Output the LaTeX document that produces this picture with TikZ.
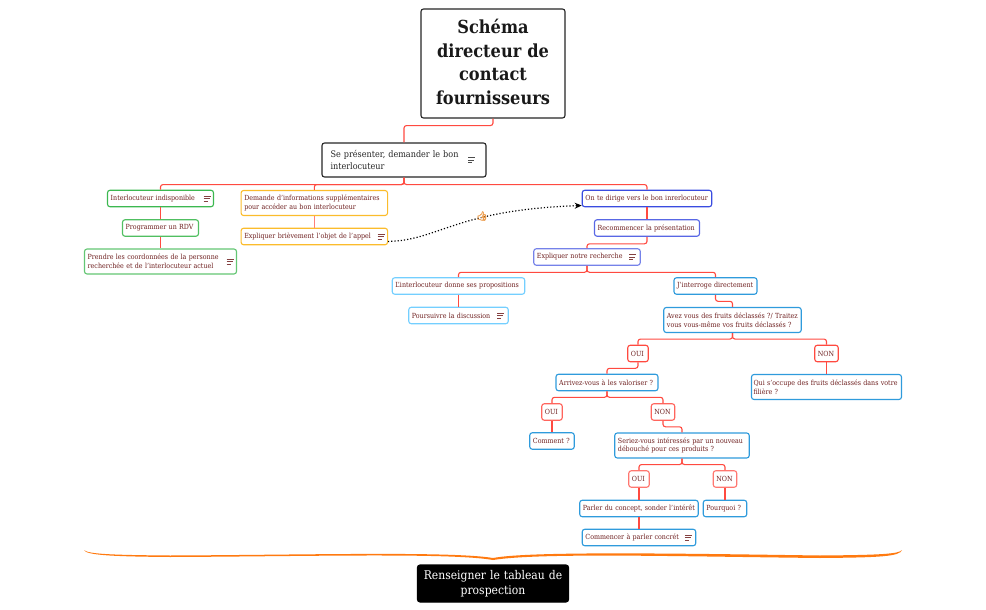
\documentclass[tikz,border=0pt]{standalone}
\usepackage{fontspec}
\usetikzlibrary{arrows.meta}
\setmainfont{DejaVu Serif Condensed}
\newfontfamily\emojifont[FakeBold=3]{Noto Emoji}
\definecolor{txtred}{HTML}{6E1F1F}
\definecolor{linkred}{HTML}{FF4A40}
\definecolor{grn}{HTML}{3CB850}
\definecolor{yel}{HTML}{FBBC2C}
\definecolor{blu}{HTML}{3A4CE0}
\definecolor{sky}{HTML}{74CFFF}
\definecolor{oce}{HTML}{2F9BDC}
\definecolor{brc}{HTML}{FF7A10}
\tikzset{
  box/.style={draw,line width=1.1,rounded corners=2.5,fill=white,text=txtred,font=\fontsize{7.03}{8.7}\selectfont,
    align=left,inner xsep=3.2,inner ysep=0,minimum height=16.5},
  dbl/.style={minimum height=25},
  link/.style={draw=linkred,line width=1.1,rounded corners=2.5},
  noteicon/.pic={\draw[line width=0.6,#1] (-3.5,-2.5) -- (3.5,-2.5) (-3.5,0) -- (2.5,0) (-3.5,2.5) -- (0.5,2.5);},
}
\begin{document}
\begin{tikzpicture}[x=1pt,y=-1pt]
    \useasboundingbox (0,0) rectangle (986,610);
    \node[box,draw=black!85,text=black!90,minimum height=109,text width=144,inner xsep=0,align=center,font=\fontsize{18}{23.5}\selectfont\bfseries] (title) at (493,63.5)
        {Schéma\\directeur de\\contact\\fournisseurs\par\vspace{3pt}};
    \node[box,draw=black!85,text=black!85,minimum height=34,text width=147,inner xsep=8.5,font=\fontsize{9}{11.5}\selectfont] (intro) at (404,160)
        {Se présenter, demander le bon\\interlocuteur};
    % left branch
    \node[box,draw=grn,text width=99.6] (indispo) at (160.5,198.5) {Interlocuteur indisponible};
    \node[box,draw=grn!90,text width=69.6] (rdv) at (160.5,228) {Programmer un RDV};
    \node[box,dbl,draw=grn!80,text width=145.6] (coord) at (160.5,261.5) {Prendre les coordonnées de la personne\\recherchée et de l'interlocuteur actuel};
    \node[box,dbl,draw=yel,text width=140.1] (demande) at (314.3,203) {Demande d'informations supplémentaires\\pour accéder au bon interlocuteur};
    \node[box,draw=yel,text width=140.1] (objet) at (314.3,236.5) {Expliquer brièvement l'objet de l'appel};
    % right branch
    \node[box,draw=blu,text width=123.1] (dirige) at (647,198.5) {On te dirige vers le bon inrerlocuteur};
    \node[box,draw=blu!85,text width=98.6] (recomm) at (647,228) {Recommencer la présentation};
    \node[box,draw=blu!70,text width=100.1] (notre) at (587,257) {Expliquer notre recherche};
    \node[box,draw=sky,text width=126.1] (props) at (458.5,286) {L'interlocuteur donne ses propositions};
    \node[box,draw=sky,text width=93.1] (suite) at (458.5,315.5) {Poursuivre la discussion};
    \node[box,draw=oce,text width=76.6] (direct) at (715.5,286) {J'interroge directement};
    \node[box,dbl,draw=oce,text width=131.1] (fruits) at (732.5,320) {Avez vous des fruits déclassés ?/ Traitez\\vous vous-même vos fruits déclassés ?};
    \node[box,draw=linkred,text width=14.1] (oui1) at (638,353.5) {OUI};
    \node[box,draw=linkred,text width=17.1] (non1) at (826.5,353.5) {NON};
    \node[box,draw=oce,text width=95.6] (valor) at (607,382.5) {Arrivez-vous à les valoriser ?};
    \node[box,dbl,draw=oce,text width=146,inner xsep=2] (qui) at (826.5,387) {Qui s'occupe des fruits déclassés dans votre\\filière ?};
    \node[box,draw=linkred!85,text width=14.1] (oui2) at (552,412) {OUI};
    \node[box,draw=linkred!85,text width=17.1] (non2) at (663,412) {NON};
    \node[box,draw=oce,text width=38.1] (comment) at (552,441) {Comment ?};
    \node[box,dbl,draw=oce,text width=128.1] (debouche) at (682,445.5) {Seriez-vous intéressés par un nouveau\\débouché pour ces produits ?};
    \node[box,draw=linkred!75,text width=14.1] (oui3) at (639,479) {OUI};
    \node[box,draw=linkred!75,text width=17.1] (non3) at (725,479) {NON};
    \node[box,draw=oce,text width=112.1] (concept) at (639,508.5) {Parler du concept, sonder l'intérêt};
    \node[box,draw=oce,text width=37.1] (pourquoi) at (725,508.5) {Pourquoi ?};
    \node[box,draw=oce,text width=107.1] (concret) at (639,537.5) {Commencer à parler concrét};
    \node[box,draw=black,fill=black,text=white,minimum height=37,text width=151,inner xsep=0,align=center,font=\fontsize{12}{15.5}\selectfont] (tableau) at (493,583.5)
        {Renseigner le tableau de\\prospection};

    \draw[link] (title.south) -- ++(0,7) -| (intro.north);
    \draw[link] (intro.south) -- ++(0,7) -| (indispo.north);
    \draw[link] (intro.south) -- ++(0,7) -| (demande.north);
    \draw[link] (intro.south) -- ++(0,7) -| (dirige.north);
    \draw[link] (indispo) -- (rdv);
    \draw[link] (rdv) -- (coord);
    \draw[link,draw=linkred!70] (demande) -- (objet);
    \draw[link] (dirige) -- (recomm);
    \draw[link] (recomm.south) -- ++(0,7) -| (notre.north);
    \draw[link] (notre.south) -- ++(0,6.5) -| (props.north);
    \draw[link] (notre.south) -- ++(0,6.5) -| (direct.north);
    \draw[link] (props) -- (suite);
    \draw[link] (direct.south) -- ++(0,6.5) -| (fruits.north);
    \draw[link] (fruits.south) -- ++(0,6) -| (oui1.north);
    \draw[link] (fruits.south) -- ++(0,6) -| (non1.north);
    \draw[link] (non1) -- (qui);
    \draw[link] (oui1.south) -- ++(0,6) -| (valor.north);
    \draw[link] (valor.south) -- ++(0,6) -| (oui2.north);
    \draw[link] (valor.south) -- ++(0,6) -| (non2.north);
    \draw[link] (oui2) -- (comment);
    \draw[link] (non2.south) -- ++(0,6) -| (debouche.north);
    \draw[link] (debouche.south) -- ++(0,6) -| (oui3.north);
    \draw[link] (debouche.south) -- ++(0,6) -| (non3.north);
    \draw[link] (oui3) -- (concept);
    \draw[link] (non3) -- (pourquoi);
    \draw[link] (concept) -- (concret);

    % note marks
    \pic at ([xshift=-15]intro.east) {noteicon=black!70};
    \foreach \n/\d in {indispo/7,coord/7,objet/7,notre/8,suite/8,concret/8}
        \pic at ([xshift=-\d]\n.east) {noteicon=txtred!85};

    % dotted relation with its mark
    \coordinate (objetR) at (388,241.5);
    \draw[line width=1.2,dotted,-{Stealth[length=7,width=6]}] (objetR) .. controls (440,240) and (455,210) .. ([yshift=-7]dirige.west);
    \node[inner sep=0,text=orange!60!brown!80!white,font=\emojifont\fontsize{9}{9}\selectfont] (thumb) at (482,216) {👍};

    % brace over the last box
    \fill[brc] (84,550) .. controls (86,555) and (110,556.5) .. (170,557)
        .. controls (300,556.5) and (450,552.5) .. (493,560)
        .. controls (540,552.5) and (680,556.5) .. (820,558)
        .. controls (880,557.5) and (900,556.5) .. (902,550)
        .. controls (899,554) and (880,555) .. (820,555.5)
        .. controls (680,553.5) and (530,551) .. (493,558)
        .. controls (450,551) and (300,555) .. (170,555.5)
        .. controls (110,555) and (88,554) .. (84,550) -- cycle;
\end{tikzpicture}
\end{document}
